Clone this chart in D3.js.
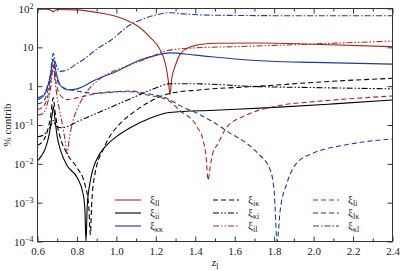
<!DOCTYPE html>
<html><head><meta charset="utf-8">
<script src="https://cdn.jsdelivr.net/npm/d3@7"></script>
<style>
body{margin:0;background:#fff}
svg{display:block}
svg text{font-family:'Liberation Serif','Times New Roman',Times,serif !important;fill:#222}
</style>
</head><body><svg id="c" width="407" height="271"></svg>
<script>
// ---- data ----
const xTicks = [0.6,0.8,1.0,1.2,1.4,1.6,1.8,2.0,2.2,2.4];
const xMinorTicks = [0.7,0.9,1.1,1.3,1.5,1.7,1.9,2.1,2.3];
const yTicks = [1e-4,1e-3,1e-2,1e-1,1,10,100];
const yTickLabels = [["10","−4"],["10","−3"],["10","−2"],["10","−1"],["1",""],["10",""],["10","2"]];

const zLL = [0.6,0.64,0.66,0.675,0.68,0.685,0.7,0.8,0.92,1.0,1.07,1.12,1.17,1.22,1.25,1.265,1.272,1.28,1.3,1.32,1.36,1.41,1.5,1.73,2.0,2.4];
const vLL = [97,96,94,86,82,86,94,92,76,62,45,32,18.4,9,3.5,1.2,0.6,1.5,3.5,6.3,9.5,11.5,12.7,12.9,12.0,10.4];

const zII = [0.6,0.62,0.64,0.66,0.675,0.68,0.69,0.7,0.72,0.75,0.8,0.83,0.84,0.846,0.852,0.865,0.88,0.9,0.95,1.0,1.07,1.17,1.27,1.5,1.78,2.1,2.4];
const vII = [0.012,0.016,0.025,0.06,0.2,0.3,0.12,0.05,0.02,0.009,0.0045,0.0018,0.0007,0.0001,0.0008,0.003,0.007,0.013,0.03,0.05,0.085,0.15,0.21,0.24,0.28,0.35,0.44];

const zKK = [0.6,0.63,0.65,0.665,0.68,0.695,0.71,0.73,0.76,0.8,0.9,1.0,1.12,1.2,1.27,1.4,1.6,1.78,2.0,2.4];
const vKK = [0.45,0.55,0.9,1.8,5.0,2.2,1.2,0.9,0.8,0.85,1.5,2.4,4.7,6.2,7.2,6.3,5.0,4.4,4.1,3.7];

const zIK = [0.6,0.63,0.65,0.665,0.68,0.69,0.7,0.72,0.75,0.8,0.84,0.86,0.868,0.875,0.89,0.94,1.02,1.08,1.17,1.27,1.42,1.73,2.0,2.4];
const vIK = [0.03,0.04,0.07,0.15,0.5,0.2,0.1,0.04,0.018,0.008,0.003,0.0008,0.00015,0.001,0.005,0.028,0.11,0.2,0.4,0.65,0.8,1.0,1.25,1.6];

const zKI = [0.6,0.63,0.65,0.665,0.68,0.69,0.7,0.72,0.75,0.8,0.9,1.0,1.1,1.2,1.27,1.4,1.7,2.0,2.4];
const vKI = [0.05,0.055,0.07,0.09,0.13,0.1,0.09,0.085,0.09,0.12,0.2,0.33,0.55,0.9,1.15,1.15,0.98,0.92,0.85];

const zIL = [0.6,0.63,0.65,0.665,0.68,0.69,0.7,0.72,0.74,0.75,0.76,0.78,0.8,0.84,0.92,1.0,1.08,1.17,1.26,1.4,1.6,1.8,2.0,2.2,2.4];
const vIL = [0.18,0.2,0.35,0.8,3.0,1.2,0.5,0.15,0.04,0.017,0.04,0.13,0.25,0.6,1.6,2.6,3.7,5.5,8.3,9.7,10.4,11.2,12.2,13.3,14.5];

const zLI = [0.6,0.63,0.65,0.665,0.68,0.69,0.7,0.72,0.75,0.8,0.9,1.0,1.07,1.15,1.26,1.32,1.41,1.44,1.455,1.465,1.475,1.49,1.51,1.56,1.66,1.83,1.98,2.2,2.4];
const vLI = [0.25,0.3,0.5,1.1,3.5,1.6,0.9,0.55,0.45,0.5,0.65,0.72,0.72,0.6,0.44,0.24,0.088,0.04,0.015,0.0038,0.008,0.02,0.03,0.088,0.18,0.32,0.39,0.48,0.56];

const zLK = [0.6,0.63,0.65,0.665,0.68,0.69,0.7,0.72,0.75,0.8,0.9,1.0,1.07,1.15,1.27,1.32,1.41,1.49,1.58,1.66,1.72,1.78,1.8,1.815,1.83,1.865,1.915,2.0,2.15,2.4];
const vLK = [0.35,0.4,0.7,1.5,5,2.2,1.4,1.0,0.85,0.75,0.65,0.72,0.75,0.65,0.45,0.32,0.2,0.12,0.06,0.034,0.018,0.0069,0.002,0.0001,0.0006,0.0032,0.0106,0.019,0.03,0.044];

const zKL = [0.6,0.63,0.65,0.665,0.68,0.69,0.7,0.714,0.75,0.8,0.83,0.9,0.97,1.07,1.12,1.2,1.27,1.35,1.5,2.0,2.4];
const vKL = [0.5,0.6,1.0,2.0,7.0,4.2,3.0,2.4,2.6,3.8,4.7,9,15,38,50,68,78,72,67,65,65];

const RED = "#a8281e", BLUE = "#1c3aa0", BLACK = "#000";
const DASH = "5,3", DDOT = "6,2,1.5,2,1.5,2", DOT1 = "6,2,1.5,2";

const series = [
  {name:["ξ","ll"], z:zLL, v:vLL, color:RED,   dash:null},
  {name:["ξ","ii"], z:zII, v:vII, color:BLACK, dash:null},
  {name:["ξ","κκ"], z:zKK, v:vKK, color:BLUE,  dash:null},
  {name:["ξ","iκ"], z:zIK, v:vIK, color:BLACK, dash:DASH},
  {name:["ξ","κi"], z:zKI, v:vKI, color:BLACK, dash:DDOT},
  {name:["ξ","il"], z:zIL, v:vIL, color:RED,   dash:DDOT},
  {name:["ξ","li"], z:zLI, v:vLI, color:RED,   dash:DASH},
  {name:["ξ","lκ"], z:zLK, v:vLK, color:BLUE,  dash:DASH},
  {name:["ξ","κl"], z:zKL, v:vKL, color:BLUE,  dash:DOT1}
];

// ---- layout ----
const FONT = "'Liberation Serif','Times New Roman',Times,serif";
const L = 37.5, R = 392.5, T = 8.5, B = 241.5;
const svg = d3.select("#c").attr("font-family",FONT);
const x = d3.scaleLinear().domain([0.6,2.4]).range([L,R]);
const y = d3.scaleLog().domain([1e-4,1e2]).range([B,T]);

svg.append("defs").append("clipPath").attr("id","clip")
  .append("rect").attr("x",L).attr("y",T).attr("width",R-L).attr("height",B-T);

const line = d3.line().x(d=>x(d[0])).y(d=>y(d[1])).curve(d3.curveMonotoneX);
const g = svg.append("g").attr("clip-path","url(#clip)");
series.forEach(s=>{
  g.append("path").datum(s.z.map((z,i)=>[z,s.v[i]]))
   .attr("d",line).attr("fill","none").attr("stroke",s.color)
   .attr("stroke-width",1.1).attr("stroke-dasharray",s.dash);
});

// ---- axes ----
function style(sel){
  sel.attr("font-family",FONT);
  sel.select(".domain").remove();
  sel.selectAll("line").attr("stroke","#333");
  sel.selectAll("text").attr("font-size",11).attr("fill","#222").style("font-family",FONT);
}
svg.append("g").attr("transform",`translate(0,${B})`)
  .call(d3.axisBottom(x).tickValues(xTicks).tickFormat(d3.format(".1f")).tickSizeInner(-5).tickSizeOuter(0).tickPadding(6)).call(style);
svg.append("g").attr("transform",`translate(0,${B})`)
  .call(d3.axisBottom(x).tickValues(xMinorTicks).tickFormat("").tickSizeInner(-3).tickSizeOuter(0)).call(style);
svg.append("g").attr("transform",`translate(0,${T})`)
  .call(d3.axisTop(x).tickValues(xTicks).tickFormat("").tickSizeInner(-5).tickSizeOuter(0)).call(style);
svg.append("g").attr("transform",`translate(0,${T})`)
  .call(d3.axisTop(x).tickValues(xMinorTicks).tickFormat("").tickSizeInner(-3).tickSizeOuter(0)).call(style);
const ya = svg.append("g").attr("transform",`translate(${L},0)`)
  .call(d3.axisLeft(y).tickValues(yTicks).tickFormat("").tickSizeInner(-5).tickSizeOuter(0).tickPadding(4)).call(style);
ya.selectAll(".tick text").each(function(d,i){
  const t = d3.select(this); const lab = yTickLabels[i];
  t.text(null); t.append("tspan").text(lab[0]);
  if(lab[1]) t.append("tspan").attr("font-size",8).attr("dy",-4).text(lab[1]);
});
svg.append("g").attr("transform",`translate(${R},0)`)
  .call(d3.axisRight(y).tickValues(yTicks).tickFormat("").tickSizeInner(-5).tickSizeOuter(0)).call(style);

svg.append("rect").attr("x",L).attr("y",T).attr("width",R-L).attr("height",B-T)
  .attr("fill","none").attr("stroke","#333").attr("stroke-width",1);

// axis titles
const xl = svg.append("text").attr("x",(L+R)/2).attr("y",266).attr("text-anchor","middle").attr("font-size",11).style("font-family",FONT);
xl.append("tspan").text("z");
xl.append("tspan").attr("font-size",8).attr("dy",3).text("l");
svg.append("text").attr("transform",`translate(11,${(T+B)/2}) rotate(-90)`).attr("text-anchor","middle")
  .attr("font-size",11).style("font-family",FONT).text("% contrib");

// ---- legend ----
const cols = [115, 213, 313];
const rows = [200, 213, 226];
series.forEach((s,i)=>{
  const cx = cols[Math.floor(i/3)], cy = rows[i%3];
  svg.append("line").attr("x1",cx).attr("x2",cx+26).attr("y1",cy).attr("y2",cy)
    .attr("stroke",s.color).attr("stroke-width",1.1).attr("stroke-dasharray",s.dash);
  const t = svg.append("text").attr("x",cx+35).attr("y",cy+3).attr("font-size",11).style("font-family",FONT);
  t.append("tspan").text(s.name[0]);
  t.append("tspan").attr("font-size",8).attr("dy",3).text(s.name[1]);
});
</script></body></html>
